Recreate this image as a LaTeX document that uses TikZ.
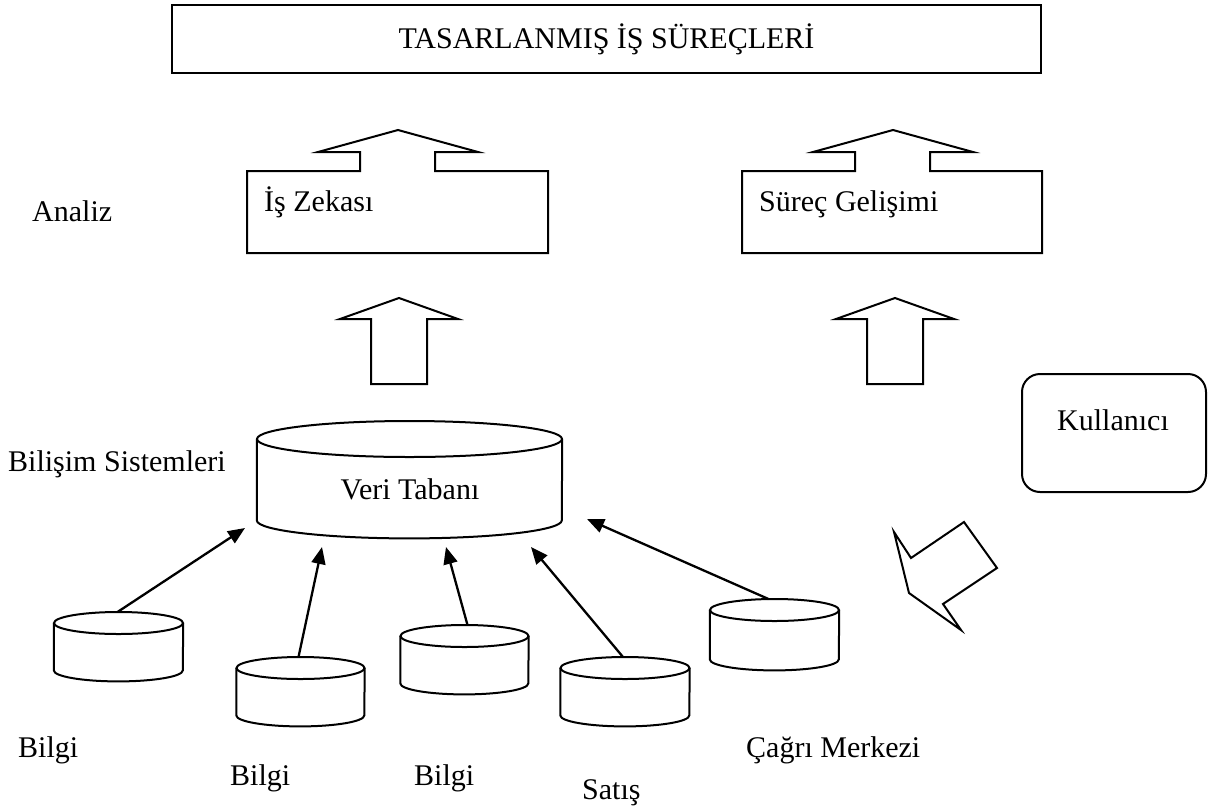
\documentclass[tikz,border=0pt]{standalone}
\usepackage{fontspec}
\setmainfont{Liberation Serif}
\usetikzlibrary{arrows.meta,calc}

% cylinder drawn around an invisible named node:
% #1 name, #2 centre x, #3 top y, #4 width, #5 height, #6 ellipse half-height
\newcommand{\dbdrum}[6]{%
  \node[inner sep=0pt, minimum width=#4pt, minimum height=#5pt, anchor=north] (#1) at (#2,#3) {};
  \draw[outline] ([yshift=-#6pt]#1.north) ellipse [x radius=#4/2, y radius=#6];
  \draw[outline] ([yshift=-#6pt]#1.north west) -- ([yshift=#6pt]#1.south west)
     arc [start angle=180, end angle=360, x radius=#4/2, y radius=#6]
     -- ([yshift=-#6pt]#1.north east);
}

\begin{document}
\begin{tikzpicture}[x=1pt, y=1pt,
  every node/.style={font=\fontsize{30pt}{35pt}\selectfont},
  outline/.style={line width=2pt, line join=miter},
  label/.style={inner sep=0pt, anchor=base west},
  feed/.style={line width=2.3pt, -{Triangle[length=17pt, width=14pt]}}]

\useasboundingbox (0,0) rectangle (1219,-807);

% process header
\node[draw, outline, minimum width=869pt, minimum height=68pt, inner sep=0pt]
  (process) at (606.5,-39) {TASARLANMIŞ İŞ SÜREÇLERİ};

% analysis boxes with their upward arrows
\draw[outline] (247,-171) -- (360,-171) -- (360,-152) -- (318,-152) -- (398,-130)
  -- (478,-152) -- (435,-152) -- (435,-171) -- (548,-171) -- (548,-253)
  -- (247,-253) -- cycle;
\node[label] (bi) at (264,-211) {İş Zekası};

\draw[outline] (742,-171) -- (855,-171) -- (855,-152) -- (813,-152) -- (893,-130)
  -- (973,-152) -- (930,-152) -- (930,-171) -- (1042,-171) -- (1042,-253)
  -- (742,-253) -- cycle;
\node[label] (proc) at (759,-211) {Süreç Gelişimi};

% block arrows
\draw[outline] (371,-384) -- (371,-319) -- (340,-319) -- (399,-298) -- (458,-319)
  -- (427,-319) -- (427,-384) -- cycle;
\draw[outline] (867,-384) -- (867,-319) -- (836,-319) -- (895,-298) -- (954,-319)
  -- (923,-319) -- (923,-384) -- cycle;

% user
\node[draw, outline, rounded corners=18pt, minimum width=184pt, minimum height=118pt]
  (userbox) at (1114,-433) {};
\node (user) at (1113,-420) {Kullanıcı};

% bent arrow from the user
\draw[outline] (964,-522) -- (997,-568) -- (943,-604) -- (961,-630) -- (909,-593)
  -- (894,-532) -- (911,-558) -- cycle;

% side labels
\node[label] (analiz) at (32,-221) {Analiz};
\node[label] (bs) at (8,-471) {Bilişim Sistemleri};

% central database
\dbdrum{db}{409.5}{-421}{305}{117}{18}
\node[label, anchor=base] (dbtext) at (410,-499) {Veri Tabanı};

% source databases
\dbdrum{s1}{118.5}{-612}{129}{69}{11}
\dbdrum{s2}{300.5}{-657}{128}{69}{11}
\dbdrum{s3}{464.5}{-625}{128}{69}{11}
\dbdrum{s4}{625}{-657}{129}{69}{11}
\dbdrum{s5}{774.5}{-599}{129}{71}{11}

\node[label] (l1) at (18,-757) {Bilgi};
\node[label] (l2) at (230,-785) {Bilgi};
\node[label] (l3) at (414,-785) {Bilgi};
\node[label] (l4) at (582,-799) {Satış};
\node[label] (l5) at (746,-757) {Çağrı Merkezi};

% arrow heads near the central database
\coordinate (t1) at (245,-528);
\coordinate (t2) at (322,-547);
\coordinate (t3) at (446,-547);
\coordinate (t4) at (531,-547);
\coordinate (t5) at (587,-519);

\draw[feed] ([xshift=-1pt]s1.north) -- (t1);
\draw[feed] ([xshift=-2pt]s2.north) -- (t2);
\draw[feed] ([xshift=3pt]s3.north) -- (t3);
\draw[feed] ([xshift=-2pt]s4.north) -- (t4);
\draw[feed] ([xshift=-6pt]s5.north) -- (t5);

\end{tikzpicture}
\end{document}
